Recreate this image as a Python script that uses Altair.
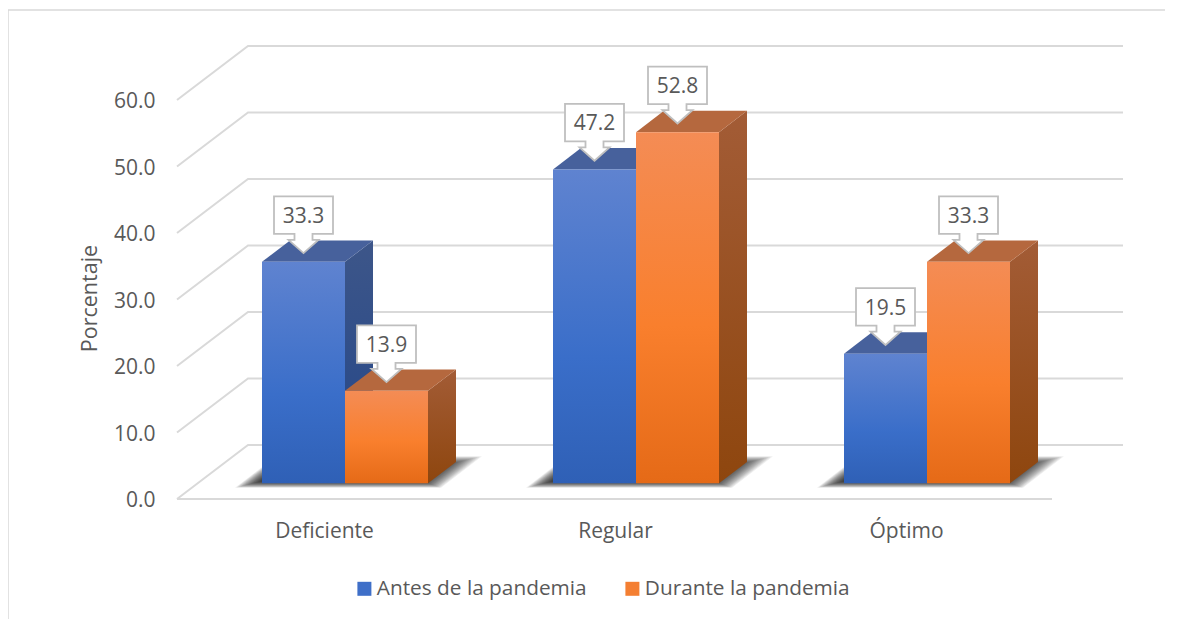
import altair as alt
import pandas as pd

# ---- values
categories = ["Deficiente", "Regular", "Óptimo"]
antes = [33.3, 47.2, 19.5]
durante = [13.9, 52.8, 33.3]
series_names = ["Antes de la pandemia", "Durante la pandemia"]
y_ticks = [0, 10, 20, 30, 40, 50, 60]

# ---- layout (pixels of the plot, converted to data units)
PX_X = 291.0      # px per category
PX_Y = 6.65       # px per percentage point
W, H = 988, 489
X_MIN = (177 - 324) / PX_X
X_MAX = X_MIN + W / PX_X
Y_MAX = H / PX_Y
ux = lambda p: p / PX_X
uy = lambda p: p / PX_Y

BAR_W = ux(83)
PLANE_X, PLANE_Y = ux(21), uy(15.7)     # bars' front plane relative to the axis plane
DEPTH_X, DEPTH_Y = ux(28), uy(21.4)     # bar depth
WALL_X, WALL_Y = ux(71), uy(54)         # floor depth
FLOOR_FRONT_END = (1052 - 324) / PX_X
WALL_END = (1123 - 324) / PX_X

GRID = "#d9d9d9"
TEXT = "#595959"
FONT = "Open Sans"

x_scale = alt.Scale(domain=[X_MIN, X_MAX], nice=False, zero=False)
y_scale = alt.Scale(domain=[0, Y_MAX], nice=False, zero=False)

label_expr = "[" + ",".join(f"'{c}'" for c in categories) + "][datum.value]"
x_axis = alt.Axis(values=[0, 1, 2], title=None, grid=False, domain=False, ticks=False,
                  labelExpr=label_expr, labelFontSize=21, labelColor=TEXT, labelFont=FONT,
                  labelPadding=21)
y_axis = alt.Axis(values=y_ticks, format=".1f", title="Porcentaje", grid=False, domain=False,
                  ticks=False, labelFontSize=21, labelColor=TEXT, labelFont=FONT, labelOffset=1.5,
                  labelPadding=22, titleFontSize=21.5, titleColor=TEXT, titleFont=FONT,
                  titleFontWeight="normal", titlePadding=12, titleY=288)


def X(field, **kw):
    return alt.X(field, scale=x_scale, axis=x_axis, **kw)


def Y(field, **kw):
    return alt.Y(field, scale=y_scale, axis=y_axis, **kw)


def grad(stops):
    return alt.Gradient(
        gradient="linear", x1=0, x2=0, y1=0, y2=1,
        stops=[alt.GradientStop(offset=o, color=c) for o, c in stops],
    )


def poly(rows, xa, xb, skew, yb, yt, key):
    """Parallelogram as area points: front edge (xa..xb) at yb, back edge shifted by skew at yt."""
    for x, up, lo in [(xa, yb, yb), (xa + skew, yt, yb), (xb, yt, yb), (xb + skew, yt, yt)]:
        rows.append(dict(x=x, up=up, lo=lo, key=key))


def area_layer(rows, fill, opacity=1.0):
    return alt.Chart(pd.DataFrame(rows)).mark_area(color=fill, opacity=opacity, clip=False).encode(
        x=X("x:Q"),
        y=Y("up:Q", stack=False),
        y2="lo:Q",
        detail="key:N",
    )


def bar_left(i, s):
    return i + PLANE_X - BAR_W + s * BAR_W


# ---- walls and gridlines
wall_rows = []
for v in y_ticks:
    for x, y in [(X_MIN, v), (X_MIN + WALL_X, v + WALL_Y), (WALL_END, v + WALL_Y)]:
        wall_rows.append(dict(x=x, y=y, key=v))
for x in [X_MIN, FLOOR_FRONT_END]:
    wall_rows.append(dict(x=x, y=0, key="floor"))
walls = alt.Chart(pd.DataFrame(wall_rows)).mark_line(color=GRID, strokeWidth=2, clip=False).encode(
    x=X("x:Q"),
    y=Y("y:Q"),
    detail="key:N",
    order="x:Q",
)

# ---- floor shadows (stacked translucent parallelograms fade the edge)
shadow_layers = []
N_SH = 20
for t in range(N_SH):
    rows = []
    for i in range(3):
        low = 4.5 - 0.35 * t
        high = 27 - 0.5 * t
        yb = PLANE_Y - uy(low)
        yt = PLANE_Y + uy(high)
        skew = ux(1.3 * (low + high))
        xa = bar_left(i, 0) - ux(27 - 1.4 * t)
        xb = bar_left(i, 2) + ux(13 - 1.0 * t)
        poly(rows, xa, xb, skew, yb, yt, f"{i}")
    shadow_layers.append(area_layer(rows, "#000000", 0.065))


# ---- 3D bars
def bar_layers(values, s, top_col, side_grad, front_grad):
    top_rows, side_rows, front_rows = [], [], []
    for i, v in enumerate(values):
        l = bar_left(i, s)
        r = l + BAR_W
        y0, y1 = PLANE_Y, v + PLANE_Y
        poly(top_rows, l, r, DEPTH_X, y1, y1 + DEPTH_Y, f"{i}")
        side_rows += [dict(x=r, up=y1, lo=y0, key=f"{i}"),
                      dict(x=r + DEPTH_X, up=y1 + DEPTH_Y, lo=y0 + DEPTH_Y, key=f"{i}")]
        front_rows.append(dict(l=l, r=r, y0=y0, y1=y1))
    front = alt.Chart(pd.DataFrame(front_rows)).mark_rect(color=front_grad).encode(
        x=X("l:Q"), x2="r:Q",
        y=Y("y1:Q"), y2="y0:Q",
    )
    return [area_layer(side_rows, side_grad), area_layer(top_rows, top_col), front]


blue = bar_layers(
    antes, 0, "#47619c",
    grad([(0, "#3d5689"), (1, "#234689")]),
    grad([(0, "#5f83d0"), (0.6, "#3a6ec9"), (1, "#2f60b6")]),
)
orange = bar_layers(
    durante, 1, "#b5683e",
    grad([(0, "#a35c36"), (1, "#8e460e")]),
    grad([(0, "#f48c55"), (0.55, "#f97f2d"), (1, "#e56a17")]),
)

# ---- call-outs
def path(points):
    return "M" + "L".join(f"{x / 50:.3f},{y / 50:.3f}" for x, y in points) + "Z"


CALLOUT = path([(-29.5, -65.5), (29.5, -65.5), (29.5, -28), (9, -28), (9, -22), (15, -22), (0, -8.7),
                (-15, -22), (-9, -22), (-9, -28), (-29.5, -28)])
label_rows = []
for s, vals in enumerate([antes, durante]):
    for i, v in enumerate(vals):
        label_rows.append(dict(x=bar_left(i, s) + BAR_W / 2, y=v + PLANE_Y, txt=f"{v:.1f}"))
labels = pd.DataFrame(label_rows)
boxes = alt.Chart(labels).mark_point(shape=CALLOUT, size=10000, filled=True, fill="white", stroke="#bfbfbf",
                                     strokeWidth=1.8, opacity=1, clip=False).encode(
    x=X("x:Q"), y=Y("y:Q"))
texts = alt.Chart(labels).mark_text(fontSize=21, font=FONT, color=TEXT, dy=-45, baseline="middle").encode(
    x=X("x:Q"), y=Y("y:Q"), text="txt:N")

# ---- legend (invisible marks carry it)
legend_df = pd.DataFrame({
    "serie": series_names * 3,
    "x": [0, 0, 1, 1, 2, 2],
    "y": [antes[0], durante[0], antes[1], durante[1], antes[2], durante[2]],
})
legend_layer = alt.Chart(legend_df).mark_square(size=100, opacity=0).encode(
    x=X("x:Q"),
    y=Y("y:Q"),
    color=alt.Color("serie:N", scale=alt.Scale(domain=series_names, range=["#3f6fc8", "#f47f32"]),
                    legend=alt.Legend(title=None, orient="none", direction="horizontal",
                                      legendX=177, legendY=568, symbolType="square", symbolSize=196,
                                      symbolOpacity=1, symbolStrokeWidth=0, labelFontSize=20.8,
                                      labelColor=TEXT, labelFont=FONT, columnPadding=35, labelOffset=2,
                                      labelLimit=300, padding=0)),
)

# ---- outer border
border_left = alt.Chart(pd.DataFrame({"a": [0]})).mark_rule(color=GRID, strokeWidth=1.5).encode(
    x=alt.value(-169), y=alt.value(0), y2=alt.value(H + 125))
border_top = alt.Chart(pd.DataFrame({"a": [0]})).mark_rule(color=GRID, strokeWidth=1.5).encode(
    x=alt.value(-169), x2=alt.value(W), y=alt.value(0))

chart = alt.layer(
    border_left, border_top, walls, *shadow_layers, *blue, *orange, boxes, texts, legend_layer
).resolve_scale(x="shared", y="shared").properties(
    width=W, height=H,
    padding={"left": 169, "top": 2, "right": 0, "bottom": 120},
    autosize=alt.AutoSizeParams(type="none"),
).configure_view(stroke=None)

chart.save("out.html", embed_options={"renderer": "svg", "actions": False})
